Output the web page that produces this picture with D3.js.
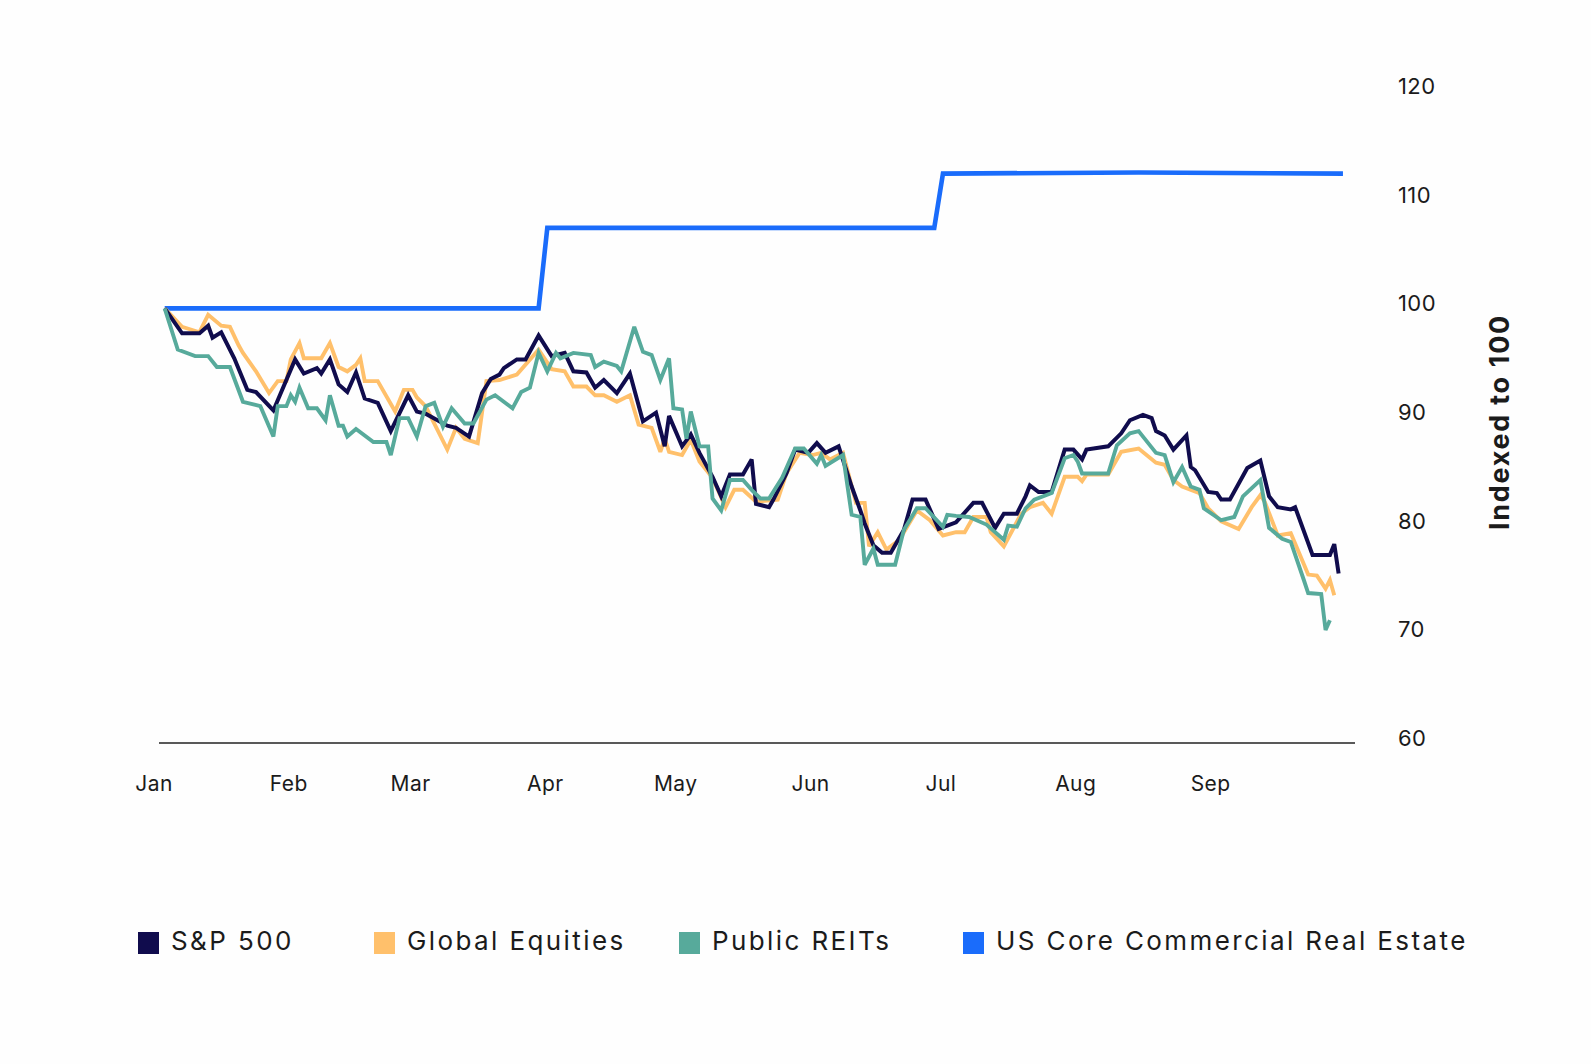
<!DOCTYPE html>
<html>
<head>
<meta charset="utf-8">
<script src="https://cdn.jsdelivr.net/npm/d3@7"></script>
<style>
  html, body { margin: 0; padding: 0; background: #fefefe; }
  svg { display: block; font-family: Inter, "Noto Sans", sans-serif; }
</style>
</head>
<body>
<svg id="chart" width="1591" height="1064"></svg>
<script>
//Data (2022, month-day, index value)
const sp500 = [['01-03',100],['01-07',97.7],['01-11',97.7],['01-13',98.4],['01-14',97.3],['01-16',97.8],['01-19',95.4],['01-22',92.5],['01-24',92.3],['01-28',90.6],['02-02',95.3],['02-04',94.0],['02-07',94.5],['02-08',94.0],['02-10',95.3],['02-12',93.0],['02-14',92.3],['02-16',94.1],['02-18',91.7],['02-21',91.3],['02-24',88.7],['02-28',92.0],['03-02',90.5],['03-04',90.3],['03-09',89.2],['03-11',89.0],['03-14',88.2],['03-17',92.2],['03-19',93.5],['03-21',93.9],['03-22',94.5],['03-25',95.3],['03-27',95.3],['03-30',97.5],['04-02',95.6],['04-05',95.9],['04-07',94.2],['04-10',94.1],['04-12',92.7],['04-14',93.4],['04-17',92.2],['04-20',94.0],['04-23',89.6],['04-26',90.4],['04-28',87.3],['04-29',90.1],['05-02',87.3],['05-04',88.4],['05-06',86.7],['05-09',84.5],['05-11',82.7],['05-13',84.7],['05-16',84.7],['05-18',86.1],['05-19',82.0],['05-22',81.7],['05-23',82.4],['05-26',84.8],['05-28',87.0],['05-31',86.7],['06-02',87.6],['06-04',86.7],['06-07',87.3],['06-10',83.6],['06-12',81.4],['06-13',80.2],['06-15',78.2],['06-17',77.5],['06-19',77.5],['06-22',79.6],['06-24',82.4],['06-27',82.4],['06-30',79.7],['07-04',80.3],['07-08',82.1],['07-10',82.1],['07-13',79.8],['07-15',81.1],['07-18',81.1],['07-20',82.7],['07-21',83.7],['07-23',83.1],['07-26',83.1],['07-29',87.0],['07-31',87.0],['08-02',86.1],['08-03',87.0],['08-08',87.3],['08-11',88.5],['08-13',89.7],['08-16',90.2],['08-18',89.9],['08-19',88.7],['08-21',88.3],['08-23',87.0],['08-26',88.3],['08-27',85.4],['08-28',85.1],['08-31',83.1],['09-02',83.0],['09-03',82.4],['09-05',82.4],['09-09',85.3],['09-12',86.0],['09-14',82.7],['09-16',81.7],['09-19',81.5],['09-20',81.7],['09-24',77.3],['09-28',77.3],['09-29',78.3],['09-30',75.6]];

const globalEq = [['01-03',100],['01-07',98.3],['01-11',97.8],['01-13',99.4],['01-16',98.4],['01-18',98.3],['01-20',96.6],['01-21',95.9],['01-24',94.2],['01-27',92.2],['01-29',93.3],['01-31',93.3],['02-01',95.3],['02-03',96.8],['02-04',95.4],['02-08',95.4],['02-10',96.8],['02-12',94.6],['02-14',94.2],['02-16',94.8],['02-17',95.4],['02-18',93.3],['02-21',93.3],['02-25',90.5],['02-27',92.5],['03-01',92.5],['03-02',91.8],['03-04',91.0],['03-09',87.0],['03-11',89.0],['03-13',88.0],['03-16',87.6],['03-18',93.3],['03-21',93.4],['03-25',93.9],['03-30',96.2],['04-02',94.4],['04-05',94.2],['04-07',92.8],['04-10',92.8],['04-12',92.0],['04-14',92.0],['04-17',91.4],['04-20',92.0],['04-22',89.3],['04-25',89.0],['04-27',86.8],['04-28',88.0],['04-29',86.8],['05-02',86.5],['05-04',87.9],['05-06',85.9],['05-09',84.4],['05-12',81.7],['05-14',83.3],['05-16',83.3],['05-19',82.2],['05-24',82.4],['05-26',84.8],['05-29',86.7],['06-01',86.5],['06-03',86.7],['06-05',86.1],['06-08',86.7],['06-11',82.1],['06-13',82.1],['06-14',78.1],['06-16',79.4],['06-18',77.8],['06-21',78.7],['06-25',81.4],['06-28',80.5],['07-01',79.1],['07-04',79.4],['07-06',79.4],['07-08',80.8],['07-11',80.8],['07-12',79.4],['07-15',78.1],['07-19',81.1],['07-21',81.7],['07-24',82.1],['07-26',81.1],['07-29',84.5],['08-01',84.5],['08-02',84.1],['08-03',84.7],['08-08',84.7],['08-11',86.8],['08-15',87.1],['08-19',85.8],['08-21',85.6],['08-23',84.2],['08-25',83.6],['08-29',83.0],['08-31',81.6],['09-03',80.4],['09-07',79.7],['09-10',81.7],['09-12',82.8],['09-13',82.2],['09-16',79.1],['09-19',79.3],['09-23',75.5],['09-25',75.4],['09-27',74.2],['09-28',75.0],['09-29',73.6]];

const reits = [['01-03',100],['01-06',96.2],['01-10',95.6],['01-13',95.6],['01-15',94.6],['01-18',94.6],['01-21',91.4],['01-25',91.0],['01-28',88.2],['01-29',91.0],['01-31',91.0],['02-01',92.0],['02-02',91.4],['02-03',92.7],['02-05',90.8],['02-07',90.8],['02-09',89.7],['02-10',92.0],['02-12',89.2],['02-13',89.2],['02-14',88.2],['02-16',88.9],['02-20',87.7],['02-23',87.7],['02-24',86.5],['02-26',89.9],['02-28',89.9],['03-02',88.2],['03-04',91.0],['03-06',91.3],['03-08',89.1],['03-10',90.8],['03-13',89.4],['03-15',89.4],['03-18',91.6],['03-20',92.0],['03-24',90.8],['03-26',92.3],['03-28',92.7],['03-30',95.9],['04-01',94.2],['04-03',95.9],['04-04',95.4],['04-07',95.9],['04-11',95.7],['04-12',94.6],['04-14',95.1],['04-17',94.7],['04-18',94.2],['04-21',98.3],['04-23',96.0],['04-25',95.7],['04-27',93.4],['04-29',95.4],['04-30',90.8],['05-02',90.7],['05-03',88.0],['05-04',90.5],['05-06',87.3],['05-08',87.3],['05-09',82.5],['05-11',81.4],['05-13',84.2],['05-16',84.2],['05-18',83.3],['05-20',82.5],['05-22',82.5],['05-25',84.4],['05-26',85.3],['05-28',87.1],['05-30',87.1],['06-02',85.7],['06-03',86.5],['06-04',85.5],['06-08',86.5],['06-10',81.0],['06-12',80.8],['06-13',76.4],['06-15',77.9],['06-16',76.4],['06-20',76.4],['06-22',79.6],['06-25',81.6],['06-27',81.6],['07-01',79.9],['07-02',81.0],['07-04',80.9],['07-07',80.8],['07-11',80.1],['07-15',78.7],['07-16',80.0],['07-18',79.9],['07-20',81.6],['07-22',82.4],['07-26',83.0],['07-29',86.2],['07-31',86.5],['08-01',85.9],['08-02',84.8],['08-08',84.8],['08-10',87.4],['08-13',88.5],['08-15',88.7],['08-19',86.7],['08-21',86.5],['08-23',84.0],['08-25',85.4],['08-27',83.6],['08-29',83.3],['08-30',81.6],['09-03',80.5],['09-06',80.8],['09-08',82.7],['09-12',84.2],['09-14',79.8],['09-17',78.8],['09-19',78.5],['09-22',75.0],['09-23',73.8],['09-26',73.7],['09-27',70.4],['09-28',71.3]];

const coreCre = [['01-03',100],['03-30',100],['04-01',107.4],['06-29',107.4],['07-01',112.4],['08-15',112.5],['10-01',112.4]];

const yTicks = [60, 70, 80, 90, 100, 110, 120];
const seriesNames = ['S&P 500', 'Global Equities', 'Public REITs', 'US Core Commercial Real Estate'];
const seriesColors = ['#100c4d', '#ffc06b', '#57aa9b', '#1a6cfb'];
const yTitle = 'Indexed to 100';

//Scales
const parse = d3.timeParse('%Y-%m-%d');
const toPts = arr => arr.map(([d, v]) => ({ t: parse('2022-' + d), v }));

const svg = d3.select('#chart');
const x = d3.scaleTime()
  .domain([parse('2022-01-01'), parse('2022-10-04')])
  .range([156, 1356]);
const y = d3.scaleLinear().domain([60, 120]).range([743, 91]);
const textColor = '#1b1b1b';

// baseline
svg.append('line')
  .attr('x1', 159).attr('x2', 1355)
  .attr('y1', y(60)).attr('y2', y(60))
  .attr('stroke', '#222').attr('stroke-width', 1.4);

// month labels
svg.append('g')
  .selectAll('text')
  .data(x.ticks(d3.timeMonth.every(1)).filter(d => d.getMonth() < 9))
  .join('text')
  .attr('x', d => x(d) - 2)
  .attr('y', 785)
  .attr('text-anchor', 'middle')
  .attr('dominant-baseline', 'middle')
  .attr('font-size', 21)
  .attr('letter-spacing', 0.4)
  .attr('fill', textColor)
  .text(d3.timeFormat('%b'));

// right value labels
svg.append('g')
  .selectAll('text')
  .data(yTicks)
  .join('text')
  .attr('x', 1398)
  .attr('y', d => y(d) - 3)
  .attr('dominant-baseline', 'middle')
  .attr('font-size', 22)
  .attr('letter-spacing', 0.4)
  .attr('fill', textColor)
  .text(d => d);

svg.append('text')
  .attr('transform', `translate(1502,${(y(100) + y(80)) / 2 + 5}) rotate(-90)`)
  .attr('text-anchor', 'middle')
  .attr('dominant-baseline', 'middle')
  .attr('font-size', 27)
  .attr('font-weight', 700)
  .attr('letter-spacing', 1.7)
  .attr('fill', textColor)
  .text(yTitle);

//Lines
const line = d3.line().x(d => x(d.t)).y(d => y(d.v));
const drawOrder = [
  { data: coreCre, i: 3, w: 4.6 },
  { data: globalEq, i: 1, w: 3.9 },
  { data: sp500, i: 0, w: 4.0 },
  { data: reits, i: 2, w: 3.9 }
];
drawOrder.forEach(s => {
  svg.append('path')
    .attr('d', line(toPts(s.data)))
    .attr('fill', 'none')
    .attr('stroke', seriesColors[s.i])
    .attr('stroke-width', s.w)
    .attr('stroke-linejoin', 'miter')
    .attr('stroke-miterlimit', 3);
});

//Legend
const legendX = [138, 374, 679, 963];
const legend = svg.append('g');
seriesNames.forEach((name, i) => {
  legend.append('rect')
    .attr('x', legendX[i]).attr('y', 932)
    .attr('width', 21).attr('height', 22)
    .attr('fill', seriesColors[i]);
  legend.append('text')
    .attr('x', legendX[i] + 33).attr('y', 943)
    .attr('dominant-baseline', 'middle')
    .attr('font-size', 26)
    .attr('letter-spacing', 2.4)
    .attr('fill', textColor)
    .text(name);
});
</script>
</body>
</html>
